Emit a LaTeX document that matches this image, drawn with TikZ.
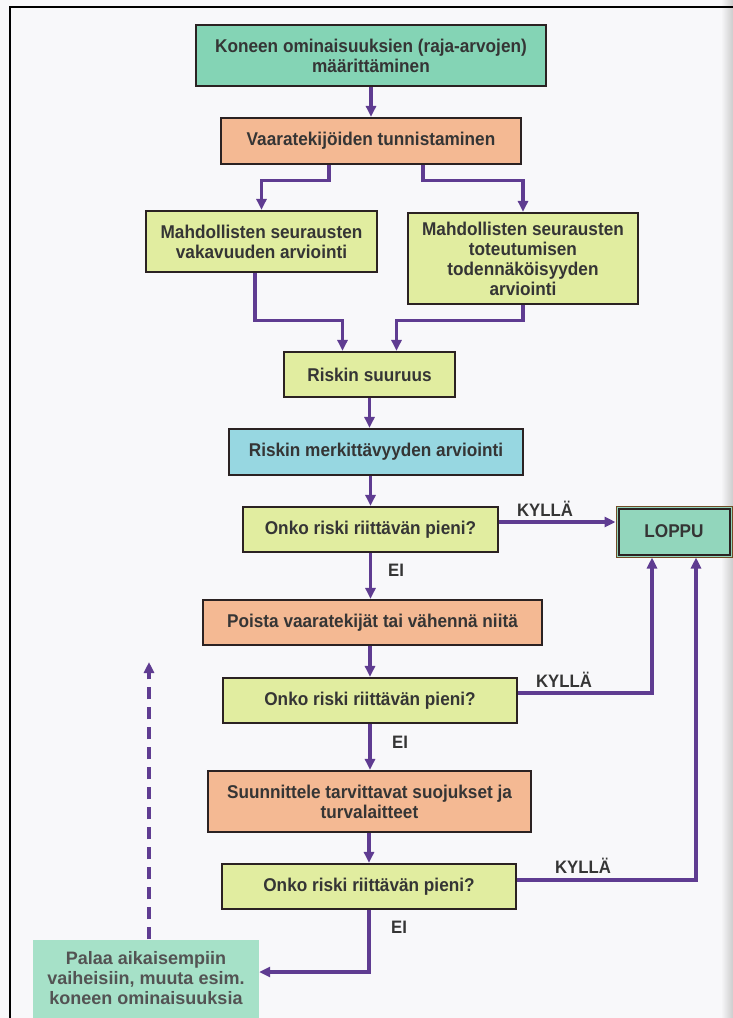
\documentclass[tikz,border=0pt]{standalone}
\usepackage{fontspec}
\setmainfont{Liberation Sans}
\newfontfamily\flowfont[FakeStretch=0.93]{Liberation Sans}
\usetikzlibrary{arrows.meta}

\definecolor{flowline}{HTML}{5F3C91}
\definecolor{boxedge}{HTML}{2B2222}
\definecolor{txtgray}{HTML}{353535}
\definecolor{tealfill}{HTML}{84D4B5}
\definecolor{orangefill}{HTML}{F4B993}
\definecolor{limefill}{HTML}{E1EDA0}
\definecolor{bluefill}{HTML}{97D7E1}
\definecolor{endfill}{HTML}{92D6BC}
\definecolor{backfill}{HTML}{A6E1C8}
\definecolor{paper}{HTML}{F8F8FA}

\tikzset{
  box/.style={draw=boxedge, line width=2.2pt, inner sep=0pt, align=center,
    text=txtgray, font=\flowfont\bfseries\fontsize{18.5}{20}\selectfont},
  arr/.style={draw=flowline, line width=3.2pt, -{Triangle[length=11pt,width=10pt]}},
  lbl/.style={text=txtgray, inner sep=0pt, font=\flowfont\bfseries\fontsize{18}{20}\selectfont}
}

\begin{document}
\begin{tikzpicture}[x=1pt,y=-1pt]
    \useasboundingbox (0,0) rectangle (733,1018);
    \fill [paper] (0,0) rectangle (733,1018);
    \shade [left color=paper, right color=black!20] (721,0) rectangle (733,1018);
    \draw [line width=2.4pt] (10,1018) -- (10,7) -- (733,7);

    % main column
    \node [box, fill=tealfill, minimum width=350pt, minimum height=61pt] (koneen) at (371,55.5) {Koneen ominaisuuksien (raja-arvojen)\\määrittäminen};
    \node [box, fill=orangefill, minimum width=300pt, minimum height=46pt] (vaara) at (371,141) {Vaaratekijöiden tunnistaminen};
    \node [box, fill=limefill, minimum width=231pt, minimum height=61pt] (vakavuus) at (261.5,241.5) {Mahdollisten seurausten\\vakavuuden arviointi};
    \node [box, fill=limefill, minimum width=230pt, minimum height=91pt] (todennak) at (523,258.5) {Mahdollisten seurausten\\toteutumisen\\todennäköisyyden\\arviointi};
    \node [box, fill=limefill, minimum width=171pt, minimum height=45pt] (suuruus) at (369.5,374.5) {Riskin suuruus};
    \node [box, fill=bluefill, minimum width=294pt, minimum height=46pt] (merkitt) at (376,452) {Riskin merkittävyyden arviointi};
    \node [box, fill=limefill, minimum width=255pt, minimum height=45pt] (onko1) at (370.5,529.5) {Onko riski riittävän pieni?};
    \node [box, fill=orangefill, minimum width=339pt, minimum height=45pt] (poista) at (372.5,622.5) {Poista vaaratekijät tai vähennä niitä};
    \node [box, fill=limefill, minimum width=294pt, minimum height=45pt] (onko2) at (370,700.5) {Onko riski riittävän pieni?};
    \node [box, fill=orangefill, minimum width=323pt, minimum height=61pt] (suojat) at (369.5,801.5) {Suunnittele tarvittavat suojukset ja\\turvalaitteet};
    \node [box, fill=limefill, minimum width=294pt, minimum height=45pt] (onko3) at (369,886.5) {Onko riski riittävän pieni?};

    % end box with double edge
    \node [box, draw=brown!60!black, line width=1pt, fill=endfill, minimum width=116pt, minimum height=51pt] (loppu) at (674,531.5) {LOPPU};
    \draw [boxedge, line width=2pt] ([shift={(3pt,-3pt)}]loppu.north west) rectangle ([shift={(-3pt,3pt)}]loppu.south east);

    \node [fill=backfill, inner sep=0pt, minimum width=226pt, minimum height=78pt, align=center, text=txtgray!85,
      font=\bfseries\fontsize{18}{20}\selectfont] (palaa) at (146,978.5) {Palaa aikaisempiin\\vaiheisiin, muuta esim.\\koneen ominaisuuksia};

    \draw [arr] (koneen.south) -- (koneen.south |- vaara.north);
    \draw [arr] ([xshift=-42pt]vaara.south) -- ++(0,15) -| (vakavuus.north);
    \draw [arr] ([xshift=52pt]vaara.south) -- ++(0,15) -| (todennak.north);
    \draw [arr] ([xshift=-6.5pt]vakavuus.south) -- ++(0,47) -| ([xshift=-27pt]suuruus.north);
    \draw [arr] (todennak.south) -- ++(0,15) -| ([xshift=27pt]suuruus.north);
    \draw [arr] (suuruus.south) -- (suuruus.south |- merkitt.north);
    \draw [arr] (onko1.north |- merkitt.south) -- (onko1.north);
    \draw [arr] (onko1.south) -- (onko1.south |- poista.north);
    \draw [arr] (onko2.north |- poista.south) -- (onko2.north);
    \draw [arr] (onko2.south) -- (onko2.south |- suojat.north);
    \draw [arr] (onko3.north |- suojat.south) -- (onko3.north);
    \draw [arr] (onko3.south) |- ([yshift=6.5pt]palaa.east);

    \draw [arr] ([yshift=7.5pt]onko1.east) -- ([yshift=7.5pt]onko1.east -| loppu.west);
    \draw [arr] ([yshift=7.5pt]onko2.east) -| ([xshift=-22pt]loppu.south);
    \draw [arr] ([yshift=6.5pt]onko3.east) -| ([xshift=22pt]loppu.south);

    \coordinate (backtip) at (149,662);
    \draw [arr, dash pattern=on 12pt off 8pt] ([xshift=3pt]palaa.north) -- (backtip);

    % answers
    \node [lbl] (kylla1) at (545,509) {KYLLÄ};
    \node [lbl] (ei1) at (396,570) {EI};
    \node [lbl] (kylla2) at (564,680) {KYLLÄ};
    \node [lbl] (ei2) at (400,742) {EI};
    \node [lbl] (kylla3) at (583,866) {KYLLÄ};
    \node [lbl] (ei3) at (399,927) {EI};
\end{tikzpicture}
\end{document}
